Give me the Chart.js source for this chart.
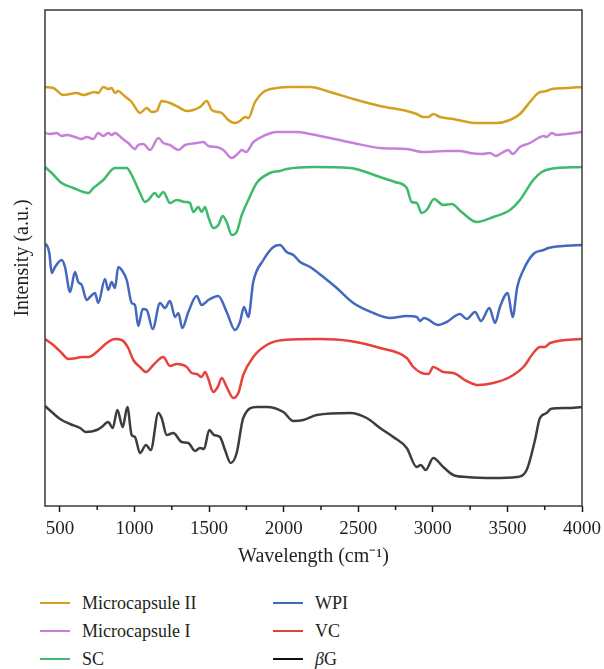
<!DOCTYPE html>
<html>
<head>
<meta charset="utf-8">
<script src="https://cdn.jsdelivr.net/npm/chart.js@4.4.1/dist/chart.umd.min.js"></script>
<style>
  body { margin: 0; background: #fff; font-family: 'Liberation Serif', 'Times New Roman', serif; color: #231f20; }
  #wrap { position: relative; width: 604px; height: 669px; overflow: hidden; }
  #spectra { position: absolute; left: 0; top: 0; }
  .item { position: absolute; display: flex; align-items: center; height: 28px; font-size: 18px; white-space: nowrap; }
  .item .swatch { width: 30px; height: 2.5px; margin-right: 12px; }
</style>
</head>
<body>
<div id="wrap">
  <canvas id="spectra" width="604" height="580"></canvas>
  <div id="legend"></div>
</div>
<script>
// FTIR spectra, [wavenumber, intensity] pairs (intensity in a.u., curves stacked)
const microcapsule2 = [[400,419],[456,418],[523,411],[613,413],[657,411],[735,414],[757,413],[791,419],[824,417],[847,418],[869,413],[891,415],[925,411],[981,404],[1037,393],[1082,398],[1115,394],[1149,395],[1182,405],[1238,403],[1294,399],[1350,395],[1439,399],[1484,405],[1518,396],[1562,394],[1585,393],[1629,386],[1674,383],[1707,385],[1741,389],[1763,388],[1808,404],[1864,414],[1953,418],[2043,419],[2177,419],[2311,414],[2467,407],[2646,400],[2825,395],[2892,392],[2936,389],[2970,389],[3003,392],[3048,389],[3137,387],[3294,383],[3428,383],[3517,386],[3584,392],[3651,404],[3707,413],[3763,415],[3797,417],[3897,418],[4000,419]];
const microcapsule1 = [[400,373],[434,372],[478,373],[512,370],[545,371],[601,369],[646,367],[680,369],[724,367],[757,373],[791,370],[824,373],[847,371],[869,373],[914,368],[958,363],[1003,357],[1025,361],[1059,362],[1104,356],[1160,368],[1193,363],[1238,361],[1294,356],[1339,361],[1417,363],[1462,364],[1495,360],[1551,359],[1596,356],[1652,348],[1697,353],[1719,356],[1748,354],[1797,364],[1864,370],[1953,374],[2087,374],[2177,372],[2311,368],[2467,363],[2646,358],[2825,357],[2936,354],[3093,355],[3182,355],[3249,353],[3328,352],[3383,353],[3423,350],[3461,353],[3506,356],[3535,352],[3584,359],[3651,363],[3707,368],[3741,370],[3763,369],[3797,373],[3830,371],[3897,372],[4000,374]];
const sc = [[400,339],[445,333],[512,323],[590,318],[657,314],[690,313],[724,318],[791,326],[869,338],[948,338],[981,331],[1037,313],[1070,304],[1093,306],[1137,313],[1160,309],[1193,314],[1238,303],[1283,306],[1339,304],[1372,303],[1394,294],[1428,299],[1450,294],[1473,299],[1495,289],[1528,278],[1562,281],[1591,290],[1618,284],[1652,271],[1685,274],[1719,291],[1763,306],[1819,323],[1908,333],[1975,335],[2020,337],[2199,339],[2445,338],[2646,329],[2746,324],[2825,318],[2858,304],[2892,303],[2925,293],[2959,296],[3008,307],[3070,301],[3126,302],[3193,294],[3294,284],[3405,289],[3517,296],[3584,306],[3673,326],[3730,334],[3786,337],[4000,339]];
const wpi = [[400,262],[411,261],[429,253],[445,233],[467,239],[512,246],[534,239],[568,214],[601,234],[623,224],[646,221],[680,206],[702,209],[735,213],[757,203],[802,227],[824,216],[847,224],[869,218],[891,239],[914,236],[948,226],[981,203],[1003,201],[1025,180],[1055,197],[1082,196],[1122,177],[1171,203],[1204,198],[1238,205],[1272,189],[1294,193],[1320,178],[1361,194],[1417,210],[1450,201],[1495,206],[1562,210],[1618,194],[1674,176],[1707,184],[1734,199],[1763,189],[1796,224],[1864,246],[1931,259],[1975,261],[2020,254],[2065,251],[2110,244],[2177,239],[2266,229],[2356,218],[2467,203],[2601,193],[2713,188],[2825,190],[2892,189],[2914,185],[2941,188],[3037,181],[3093,184],[3182,192],[3227,187],[3283,194],[3323,185],[3379,198],[3417,183],[3450,199],[3502,213],[3535,189],[3566,219],[3607,236],[3674,252],[3741,256],[3774,258],[3875,260],[4000,261]];
const vc = [[400,167],[456,161],[512,153],[556,147],[613,148],[646,149],[690,149],[747,154],[814,163],[869,167],[914,166],[958,158],[992,146],[1037,139],[1077,134],[1126,141],[1193,149],[1238,140],[1283,142],[1350,139],[1383,133],[1417,132],[1450,129],[1473,134],[1495,127],[1528,114],[1558,119],[1585,128],[1618,119],[1662,108],[1696,113],[1729,131],[1796,149],[1886,161],[1998,166],[2244,167],[2445,165],[2646,158],[2825,148],[2869,139],[2925,133],[2970,132],[3003,139],[3070,134],[3137,133],[3227,125],[3305,121],[3405,123],[3517,129],[3607,139],[3674,153],[3718,159],[3752,159],[3786,163],[4000,167]];
const betaG = [[400,100],[445,94],[501,87],[568,82],[635,78],[675,74],[747,76],[780,79],[824,84],[854,78],[885,96],[921,79],[952,99],[981,71],[1003,69],[1037,53],[1077,61],[1109,56],[1160,93],[1182,88],[1216,71],[1260,73],[1316,64],[1361,63],[1406,55],[1439,58],[1466,57],[1501,76],[1533,71],[1573,69],[1607,56],[1645,43],[1685,53],[1729,88],[1819,99],[1886,99],[1998,94],[2065,85],[2132,86],[2221,91],[2445,93],[2557,88],[2646,78],[2735,69],[2825,58],[2892,39],[2919,41],[2952,36],[3003,48],[3070,39],[3137,31],[3227,29],[3405,28],[3562,29],[3629,36],[3685,66],[3718,88],[3763,93],[3790,97],[3897,98],[4000,99]];

const seriesNames = ['Microcapsule II', 'Microcapsule I', 'SC', 'WPI', 'VC', 'βG'];
const seriesColors = ['#d5a021', '#c780d9', '#3dba6b', '#4369bf', '#e8413c', '#3d3d3d'];
const seriesData = [microcapsule2, microcapsule1, sc, wpi, vc, betaG];

const xTicks = [500, 1000, 1500, 2000, 2500, 3000, 3500, 4000];
const minorTicks = [750, 1250, 1750, 2250, 2750, 3250, 3750];

const serif = "'Liberation Serif', 'Times New Roman', serif";
const ink = '#231f20';

// box around the plot + the short unlabeled ticks between major ones
const frameAndMinorTicks = {
  id: 'frameAndMinorTicks',
  afterDraw(chart) {
    const { ctx, chartArea: a, scales: { x } } = chart;
    ctx.save();
    ctx.strokeStyle = '#3a3a3a';
    ctx.lineWidth = 1.5;
    ctx.strokeRect(a.left, a.top, a.right - a.left, a.bottom - a.top);
    ctx.strokeStyle = '#1a1a1a';
    minorTicks.forEach(v => {
      const px = x.getPixelForValue(v);
      ctx.beginPath();
      ctx.moveTo(px, a.bottom);
      ctx.lineTo(px, a.bottom + 4);
      ctx.stroke();
    });
    ctx.restore();
  }
};

const chart = new Chart(document.getElementById('spectra'), {
  type: 'line',
  data: {
    datasets: seriesNames.map((name, i) => ({
      label: name,
      data: seriesData[i],
      borderColor: seriesColors[i],
      backgroundColor: seriesColors[i],
      borderWidth: 2.5,
      pointRadius: 0,
      cubicInterpolationMode: 'monotone',
      fill: false
    }))
  },
  options: {
    responsive: false,
    animation: false,
    devicePixelRatio: 1,
    layout: { padding: { top: 10, right: 22, left: 0, bottom: 0 } },
    plugins: { legend: { display: false }, tooltip: { enabled: false } },
    scales: {
      x: {
        type: 'linear',
        min: 400,
        max: 4000,
        afterBuildTicks: axis => { axis.ticks = xTicks.map(value => ({ value })); },
        afterFit: scale => {
          scale.height = 74;
          // the "4000" label may hang past the frame, layout padding covers it
          scale.paddingRight = 0;
          scale.paddingLeft = 0;
        },
        border: { display: false },
        grid: { drawOnChartArea: false, drawTicks: true, tickLength: 6, tickWidth: 1.5, tickColor: '#1a1a1a' },
        ticks: {
          color: ink,
          font: { family: serif, size: 19 },
          padding: 6,
          maxRotation: 0,
          autoSkip: false,
          callback: v => String(v)
        },
        title: {
          display: true,
          text: 'Wavelength (cm⁻¹)',
          color: ink,
          font: { family: serif, size: 20 },
          padding: { top: 0, bottom: 11 }
        }
      },
      y: {
        min: 0,
        max: 496,
        afterFit: scale => { scale.width = 45; },
        border: { display: false },
        grid: { display: false },
        ticks: { display: false },
        title: {
          display: true,
          text: 'Intensity (a.u.)',
          color: ink,
          font: { family: serif, size: 20 },
          padding: { top: 11, bottom: 0 }
        }
      }
    }
  },
  plugins: [frameAndMinorTicks]
});

// two-column legend under the chart, filled column by column
const legendEl = document.getElementById('legend');
chart.data.datasets.forEach((ds, i) => {
  const col = Math.floor(i / 3), row = i % 3;
  const item = document.createElement('div');
  item.className = 'item';
  item.style.left = (col === 0 ? 40 : 273) + 'px';
  item.style.top = (589 + row * 28) + 'px';
  const swatch = document.createElement('span');
  swatch.className = 'swatch';
  swatch.style.background = ds.label === 'βG' ? '#111' : ds.borderColor;
  const text = document.createElement('span');
  text.innerHTML = ds.label.replace('β', '<i>β</i>');
  item.appendChild(swatch);
  item.appendChild(text);
  legendEl.appendChild(item);
});
</script>
</body>
</html>
